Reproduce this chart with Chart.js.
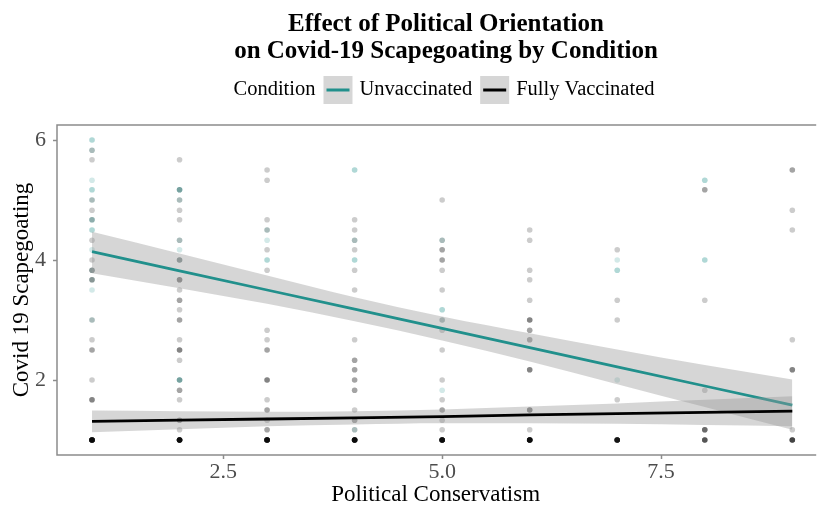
<!DOCTYPE html>
<html>
<head>
<meta charset="utf-8">
<script src="https://cdn.jsdelivr.net/npm/chart.js@4.4.1/dist/chart.umd.min.js"></script>
<style>
  html, body { margin: 0; padding: 0; background: #ffffff; }
  #wrap { width: 817px; height: 506px; }
</style>
</head>
<body>
<div id="wrap"><canvas id="c" width="817" height="506"></canvas></div>
<script>
// Axis ticks
const xTicks = [2.5, 5.0, 7.5];
const yTicks = [2, 4, 6];

// Titles and condition labels
const titleLines = ['Effect of Political Orientation', 'on Covid-19 Scapegoating by Condition'];
const legendTitle = 'Condition';
const conditions = ['Unvaccinated', 'Fully Vaccinated'];

// Linear fits with 95% confidence band, evaluated at each conservatism level
const fitX = [1, 2, 3, 4, 5, 6, 7, 8, 9];
const unvacFit   = [4.14, 3.82, 3.50, 3.18, 2.86, 2.54, 2.22, 1.90, 1.58];
const unvacUpper = [4.47, 4.11, 3.74, 3.38, 3.06, 2.78, 2.51, 2.25, 2.01];
const unvacLower = [3.78, 3.53, 3.27, 2.98, 2.66, 2.31, 1.93, 1.55, 1.17];
const vaxFit     = [1.31, 1.33, 1.35, 1.37, 1.39, 1.42, 1.44, 1.46, 1.48];
const vaxUpper   = [1.49, 1.48, 1.47, 1.48, 1.51, 1.56, 1.61, 1.67, 1.73];
const vaxLower   = [1.13, 1.18, 1.23, 1.26, 1.28, 1.28, 1.27, 1.25, 1.23];

// Individual responses: conservatism, scapegoating score, number of respondents
const unvacPtX = [1,1,1,1,1,1,1,1,1,1,1,1,1, 2,2,2,2,2,2, 3,3,3, 4,4,4,4, 5,5,5,5, 7,7,7, 8,8];
const unvacPtY = [6.0,5.83,5.33,5.17,5.0,4.67,4.5,4.17,3.83,3.67,3.5,3.0,1.0, 5.17,5.0,4.33,4.17,4.0,2.0, 4.5,4.33,4.0, 5.5,4.33,4.0,1.17, 4.33,3.17,3.0,1.83, 4.0,3.83,2.0, 5.33,4.0];
const unvacPtN = [2,1,1,2,1,2,2,1,1,1,1,1,1, 3,1,1,1,1,3, 1,1,2, 2,1,2,1, 1,2,1,1, 1,2,1, 2,2];

const vaxPtX = [1,1,1,1,1,1,1,1,1,1,1,1,1,1,1,
  2,2,2,2,2,2,2,2,2,2,2,2,2,2,2,2,2,2,2,2,2,
  3,3,3,3,3,3,3,3,3,3,3,3,3,3,3,
  4,4,4,4,4,4,4,4,4,4,4,4,4,4,4,
  5,5,5,5,5,5,5,5,5,5,5,5,5,5,5,
  6,6,6,6,6,6,6,6,6,6,6,6,
  7,7,7,7,7,
  8,8,8,8,8,
  9,9,9,9,9,9,9];
const vaxPtY = [5.83,5.67,5.0,4.83,4.67,4.33,4.0,3.83,3.67,3.0,2.67,2.5,2.0,1.67,1.0,
  5.67,5.17,5.0,4.83,4.67,4.33,4.0,3.67,3.5,3.33,3.17,3.0,2.67,2.5,2.33,2.0,1.83,1.67,1.33,1.17,1.0,
  5.5,5.33,4.67,4.5,4.17,3.83,2.83,2.67,2.5,2.0,1.67,1.5,1.33,1.17,1.0,
  4.67,4.5,4.33,4.17,3.83,3.5,2.67,2.33,2.17,2.0,1.83,1.5,1.33,1.17,1.0,
  5.0,4.33,4.17,4.0,3.83,3.5,3.0,2.83,2.5,2.0,1.67,1.5,1.33,1.17,1.0,
  4.5,4.33,3.83,3.67,3.33,3.0,2.83,2.67,2.17,1.5,1.17,1.0,
  4.17,3.33,3.0,1.67,1.0,
  5.17,3.33,1.83,1.17,1.0,
  5.5,4.83,4.5,2.67,2.17,1.17,1.0];
const vaxPtN = [1,1,1,1,1,1,1,2,2,1,1,2,1,3,15,
  1,1,1,1,1,1,2,3,1,2,1,2,1,3,1,1,2,1,2,1,15,
  1,1,1,1,1,1,1,1,2,3,1,2,1,2,15,
  1,1,1,1,1,1,1,2,2,2,2,1,2,1,15,
  1,1,2,2,1,1,1,1,1,1,1,2,1,1,15,
  1,1,1,1,1,3,2,2,3,3,1,15,
  1,1,1,1,12,
  2,1,1,4,5,
  2,1,1,1,3,1,6];

const TEAL = '#21908C';
const BLACK = '#000000';
const BAND = 'rgba(153,153,153,0.4)';
const SERIF = "'Liberation Serif', 'Times New Roman', serif";
const CENTER_X = 446;

function expandPoints(xs, ys, ns) {
  const out = [];
  xs.forEach((x, i) => { for (let k = 0; k < ns[i]; k++) out.push({ x: x, y: ys[i] }); });
  return out;
}
function pairs(xs, ys) { return xs.map((x, i) => ({ x: x, y: ys[i] })); }

// Panel border (left, top, bottom) drawn round the plotting area
const panelBorder = {
  id: 'panelBorder',
  afterDraw(chart) {
    const { ctx, chartArea: a } = chart;
    ctx.save();
    ctx.strokeStyle = '#8c8c8c';
    ctx.lineWidth = 1.5;
    ctx.beginPath();
    ctx.moveTo(a.right + 2, a.top);
    ctx.lineTo(a.left, a.top);
    ctx.lineTo(a.left, a.bottom);
    ctx.lineTo(a.right + 2, a.bottom);
    ctx.stroke();
    ctx.restore();
  }
};

// Two-line bold title centred over the panel
const panelTitle = {
  id: 'panelTitle',
  afterDraw(chart) {
    const ctx = chart.ctx;
    ctx.save();
    ctx.font = 'bold 25px ' + SERIF;
    ctx.fillStyle = '#000';
    ctx.textAlign = 'center';
    ctx.textBaseline = 'alphabetic';
    ctx.fillText(titleLines[0], CENTER_X, 31);
    ctx.fillText(titleLines[1], CENTER_X, 58);
    ctx.restore();
  }
};

// Horizontal legend: "Condition" followed by a key for each fitted line
const conditionLegend = {
  id: 'conditionLegend',
  afterDraw(chart) {
    const ctx = chart.ctx;
    ctx.save();
    ctx.font = '20.5px ' + SERIF;
    ctx.textBaseline = 'middle';
    ctx.fillStyle = '#000';
    const cy = 90, boxW = 29, boxH = 28, gapA = 7, gapB = 8;
    const colors = [TEAL, BLACK];
    const titleW = ctx.measureText(legendTitle).width;
    const labW = conditions.map(t => ctx.measureText(t).width);
    let total = titleW + gapB;
    labW.forEach((w, i) => { total += boxW + gapA + w + (i < labW.length - 1 ? gapB : 0); });
    let x = 444 - total / 2;
    ctx.fillText(legendTitle, x, cy);
    x += titleW + gapB;
    conditions.forEach((t, i) => {
      ctx.fillStyle = 'rgb(214,214,214)';
      ctx.fillRect(x, cy - boxH / 2, boxW, boxH);
      ctx.strokeStyle = colors[i];
      ctx.lineWidth = 3;
      ctx.beginPath();
      ctx.moveTo(x + 3, cy);
      ctx.lineTo(x + boxW - 3, cy);
      ctx.stroke();
      x += boxW + gapA;
      ctx.fillStyle = '#000';
      ctx.fillText(t, x, cy);
      x += labW[i] + gapB;
    });
    ctx.restore();
  }
};

const pointStyle = { pointRadius: 2.8, pointBorderWidth: 0, pointHoverRadius: 2.8, showLine: false };

new Chart(document.getElementById('c'), {
  type: 'scatter',
  data: {
    datasets: [
      { label: 'Fully Vaccinated fit', data: pairs(fitX, vaxFit), showLine: true, borderColor: BLACK, borderWidth: 2.8, pointRadius: 0, fill: false, order: 0 },
      { label: 'Fully Vaccinated upper', data: pairs(fitX, vaxUpper), showLine: true, borderWidth: 0, borderColor: 'rgba(0,0,0,0)', pointRadius: 0, backgroundColor: BAND, fill: 2, cubicInterpolationMode: 'monotone', order: 1 },
      { label: 'Fully Vaccinated lower', data: pairs(fitX, vaxLower), showLine: true, borderWidth: 0, borderColor: 'rgba(0,0,0,0)', pointRadius: 0, fill: false, cubicInterpolationMode: 'monotone', order: 2 },
      { label: 'Unvaccinated fit', data: pairs(fitX, unvacFit), showLine: true, borderColor: TEAL, borderWidth: 2.8, pointRadius: 0, fill: false, order: 3 },
      { label: 'Unvaccinated upper', data: pairs(fitX, unvacUpper), showLine: true, borderWidth: 0, borderColor: 'rgba(0,0,0,0)', pointRadius: 0, backgroundColor: BAND, fill: 5, cubicInterpolationMode: 'monotone', order: 4 },
      { label: 'Unvaccinated lower', data: pairs(fitX, unvacLower), showLine: true, borderWidth: 0, borderColor: 'rgba(0,0,0,0)', pointRadius: 0, fill: false, cubicInterpolationMode: 'monotone', order: 5 },
      Object.assign({ label: 'Fully Vaccinated', data: expandPoints(vaxPtX, vaxPtY, vaxPtN), backgroundColor: 'rgba(0,0,0,0.2)', order: 6 }, pointStyle),
      Object.assign({ label: 'Unvaccinated', data: expandPoints(unvacPtX, unvacPtY, unvacPtN), backgroundColor: 'rgba(33,144,140,0.2)', order: 7 }, pointStyle)
    ]
  },
  options: {
    responsive: false,
    animation: false,
    events: [],
    layout: { padding: { top: 125, left: 0, right: 0, bottom: 0 } },
    plugins: {
      legend: { display: false },
      tooltip: { enabled: false },
      title: { display: false }
    },
    scales: {
      x: {
        type: 'linear', min: 0.6, max: 9.25,
        afterBuildTicks: s => { s.ticks = xTicks.map(v => ({ value: v })); },
        afterFit: s => { s.height = 51; },
        ticks: { callback: v => Number(v).toFixed(1), color: '#4d4d4d', font: { family: SERIF, size: 22 }, padding: 0, maxRotation: 0 },
        grid: { display: true, drawOnChartArea: false, drawTicks: true, tickLength: 4, tickColor: '#8c8c8c', tickWidth: 1.5 },
        border: { display: false },
        title: { display: true, text: 'Political Conservatism', color: '#000', font: { family: SERIF, size: 23 }, padding: { top: 0, bottom: -3 } }
      },
      y: {
        type: 'linear', min: 0.75, max: 6.25,
        afterBuildTicks: s => { s.ticks = yTicks.map(v => ({ value: v })); },
        afterFit: s => { s.width = 57; },
        ticks: { callback: v => String(v), color: '#4d4d4d', font: { family: SERIF, size: 22 }, padding: 7 },
        grid: { display: true, drawOnChartArea: false, drawTicks: true, tickLength: 4, tickColor: '#8c8c8c', tickWidth: 1.5 },
        border: { display: false },
        title: { display: true, text: 'Covid 19 Scapegoating', color: '#000', font: { family: SERIF, size: 23 }, padding: { top: 8, bottom: 0 } }
      }
    }
  },
  plugins: [panelBorder, panelTitle, conditionLegend]
});
</script>
</body>
</html>
